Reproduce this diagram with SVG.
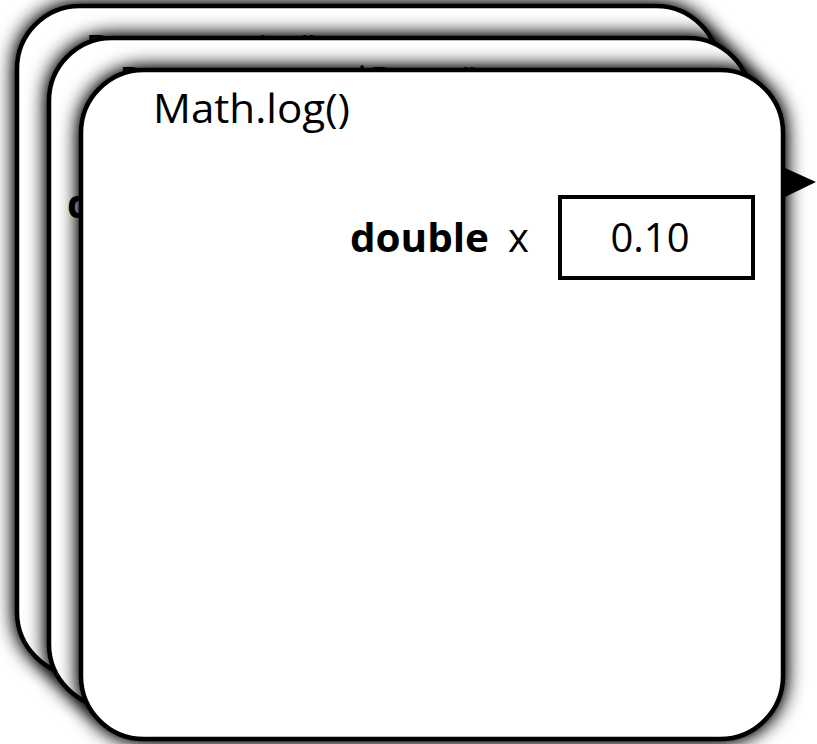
<svg xmlns="http://www.w3.org/2000/svg" width="817" height="744" viewBox="0 0 817 744">
  <defs>
    <filter id="shadow" x="-8%" y="-8%" width="116%" height="116%">
      <feGaussianBlur in="SourceAlpha" stdDeviation="10" result="b"/>
      <feComponentTransfer in="b" result="s">
        <feFuncA type="linear" slope="1.4"/>
      </feComponentTransfer>
      <feMerge>
        <feMergeNode in="s"/>
        <feMergeNode in="SourceGraphic"/>
      </feMerge>
    </filter>
    <style>
      .card { fill: #ffffff; stroke: #000000; stroke-width: 4.5; }
      .lbl { font-family: "Open Sans", "Noto Sans", sans-serif; font-size: 40px; fill: #000000; }
      .bold { font-weight: bold; }
      .box { fill: #ffffff; stroke: #000000; stroke-width: 4; }
    </style>
  </defs>
  <rect width="817" height="744" fill="#ffffff"/>

  <g id="frame-date-main">
    <rect class="card" x="17" y="6" width="702" height="669" rx="63" ry="63" filter="url(#shadow)"/>
    <text class="lbl" x="85" y="64" textLength="236" lengthAdjust="spacingAndGlyphs">Date.main()</text>
  </g>

  <g id="frame-date-second">
    <rect class="card" x="49" y="38" width="702" height="669" rx="63" ry="63" filter="url(#shadow)"/>
    <text class="lbl" y="96"><tspan x="119">Date.unusual</tspan><tspan x="369">Date()</tspan></text>
    <text class="lbl bold" x="67" y="218">double</text>
  </g>

  <g id="frame-math-log">
    <rect class="card" x="81" y="70" width="702" height="669" rx="63" ry="63" filter="url(#shadow)"/>
    <text class="lbl" x="153" y="123" textLength="197" lengthAdjust="spacingAndGlyphs">Math.log()</text>
    <text class="lbl bold" x="350" y="252" textLength="139" lengthAdjust="spacingAndGlyphs">double</text>
    <text class="lbl" x="508" y="252">x</text>
    <g id="var-x">
      <rect class="box" x="560" y="197" width="193" height="81"/>
      <text class="lbl" x="650" y="252" text-anchor="middle">0.10</text>
    </g>
  </g>

  <g id="connectors">
    <polygon points="785,168 816,182 785,197" fill="#000000"/>
  </g>
</svg>
